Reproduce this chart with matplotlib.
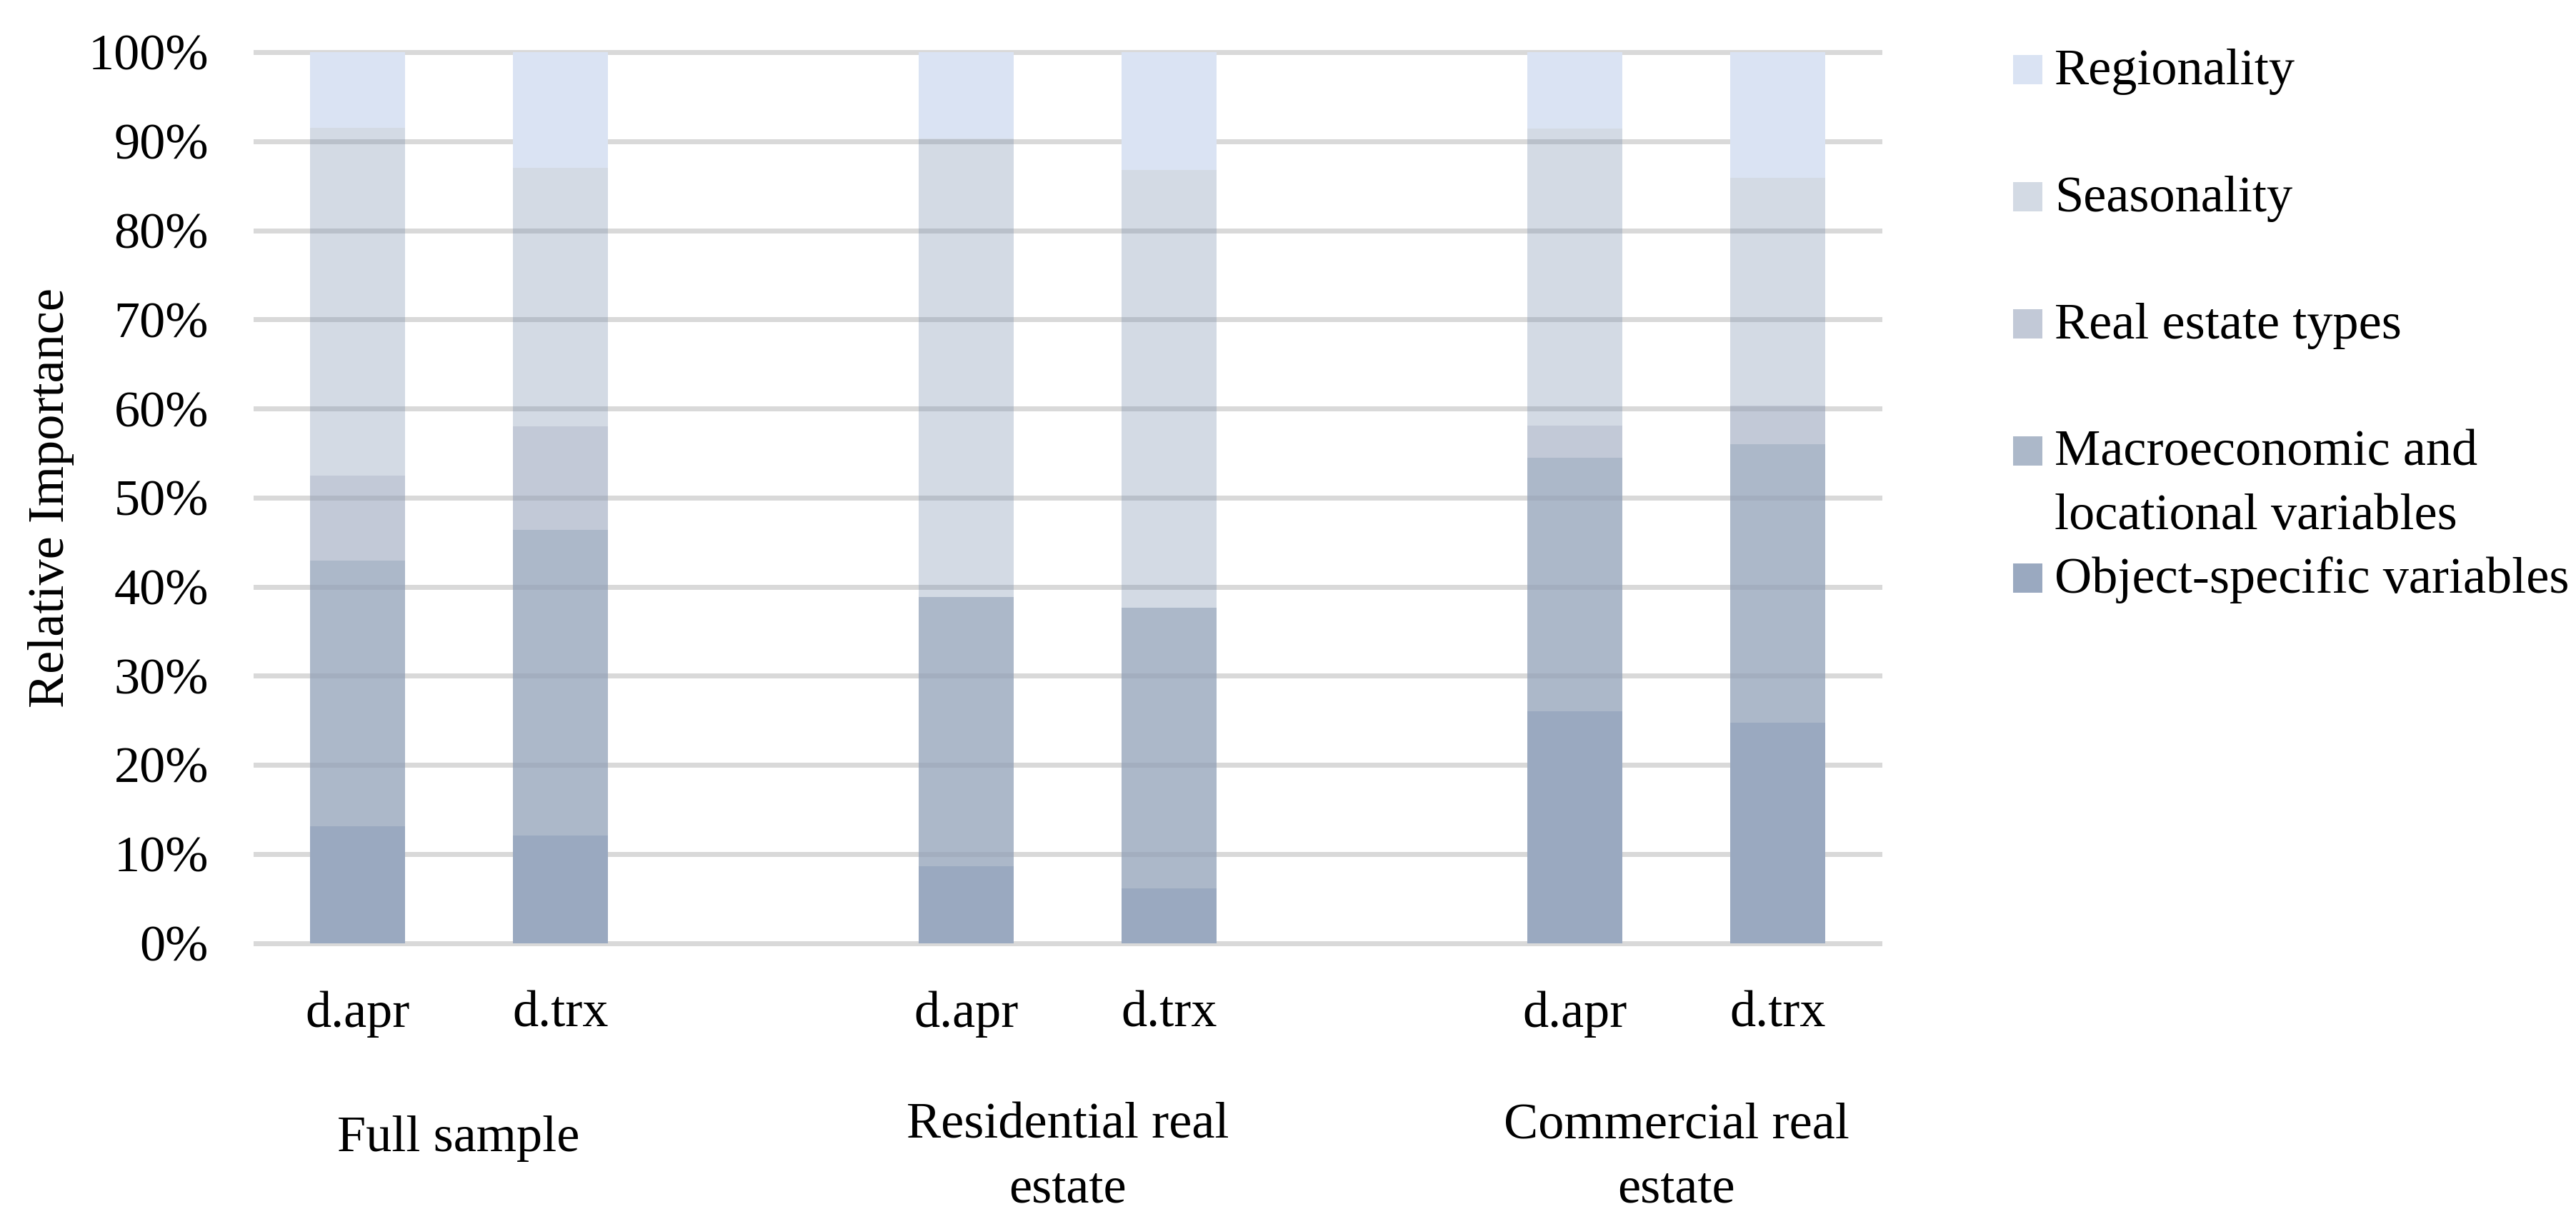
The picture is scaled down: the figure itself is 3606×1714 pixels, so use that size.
import matplotlib
matplotlib.use("Agg")
import matplotlib.pyplot as plt
from matplotlib.patches import Rectangle
from matplotlib.transforms import blended_transform_factory
import numpy as np

# ---------------- data ----------------
groups = ["Full sample", "Residential real\nestate", "Commercial real\nestate"]
methods = ["d.apr", "d.trx"]
series_names = ["Object-specific variables",
                "Macroeconomic and\nlocational variables",
                "Real estate types",
                "Seasonality",
                "Regionality"]
# values in %, order of bars: Full d.apr, Full d.trx, Res d.apr, Res d.trx, Com d.apr, Com d.trx
object_specific = [13.1, 12.1, 8.6, 6.1, 26.0, 24.7]
macro_locational = [29.8, 34.3, 30.2, 31.5, 28.5, 31.3]
real_estate_types = [9.6, 11.6, 0.0, 0.0, 3.6, 4.3]
seasonality = [39.0, 29.0, 51.5, 49.2, 33.3, 25.6]
regionality = [8.5, 13.0, 9.7, 13.2, 8.6, 14.1]
yticks = [0, 10, 20, 30, 40, 50, 60, 70, 80, 90, 100]

# ---------------- style ----------------
W, H = 3606, 1714
DPI = 100
FONT = "Liberation Serif"
plt.rcParams["font.family"] = [FONT, "DejaVu Serif"]

# colors (rgb base, alpha) chosen to match appearance over white
series_styles = [
    ((154/255, 169/255, 192/255), 1.0),    # object-specific
    ((144/255, 159/255, 182/255), 0.74),   # macro
    ((144/255, 157/255, 182/255), 0.55),   # real estate types
    ((112/255, 135/255, 168/255), 0.30),   # seasonality
    ((218/255, 227/255, 243/255), 1.0),    # regionality
]

fig = plt.figure(figsize=(W / DPI, H / DPI), dpi=DPI)
fig.patch.set_facecolor("white")

def fx(px):
    return px / W

def fy(px):
    return 1 - px / H

# calibrate font size to match target text width
probe = fig.text(0, 0, "Regionality", fontsize=40)
fig.canvas.draw()
wpx = probe.get_window_extent().width
probe.remove()
FS = 40 * 337.0 / wpx

ax_left, ax_right, ax_top, ax_bottom = 358, 2631, 73, 1320.5
ax = fig.add_axes([fx(ax_left), fy(ax_bottom), fx(ax_right) - fx(ax_left),
                   fy(ax_top) - fy(ax_bottom)])

# slot positions: two bars per group, one blank slot between groups
positions = []
labels_pos = []
slot = 0
for gi, g in enumerate(groups):
    gp = []
    for m in methods:
        positions.append(slot)
        gp.append(slot)
        slot += 1
    labels_pos.append(np.mean(gp))
    slot += 1  # blank slot
n_slots = slot - 1

series = [object_specific, macro_locational, real_estate_types, seasonality, regionality]
bottom = np.zeros(len(positions))
bar_w = 0.468
for vals, (col, a) in zip(series, series_styles):
    vals = np.array(vals)
    ax.bar(positions, vals, width=bar_w, bottom=bottom, color=col, alpha=a,
           linewidth=0, zorder=2)
    bottom += vals

ax.set_xlim(-0.5, n_slots - 0.5)
ax.set_ylim(0, 100)
ax.set_yticks(yticks)
ax.set_yticklabels([f"{t}%" for t in yticks])
ax.set_xticks(positions)
ax.set_xticklabels(methods * len(groups))
for s in ax.spines.values():
    s.set_visible(False)
ax.set_axisbelow(True)
grid_lw = 7 * 72 / DPI
ax.yaxis.grid(True, color="#D9D9D9", linewidth=grid_lw, zorder=0)
for gl in ax.get_ygridlines():
    gl.set_clip_on(False)
ax.tick_params(axis="both", length=0, labelsize=FS, labelcolor="black")
ax.tick_params(axis="y", pad=(ax_left - 292) * 72 / DPI)
ax.tick_params(axis="x", pad=(1438 - ax_bottom) * 72 / DPI)
for lbl in ax.get_yticklabels():
    lbl.set_verticalalignment("center_baseline")
for lbl in ax.get_xticklabels():
    lbl.set_verticalalignment("baseline")

# group labels
trans = blended_transform_factory(ax.transData, fig.transFigure)
line_gap = 89
for g, xc in zip(groups, labels_pos):
    lines = g.split("\n")
    first = 1612 if len(lines) == 1 else 1594
    for li, t in enumerate(lines):
        ax.text(xc, fy(first + li * line_gap), t, transform=trans, ha="center",
                va="baseline", fontsize=FS, color="black")

# y label
fig.text(fx(72), fy((ax_top + ax_bottom) / 2), "Relative Importance", rotation=90,
         ha="center", va="center", fontsize=FS, color="black")

# legend (top entry = last series)
sq = 41
for i, (name, (col, a)) in enumerate(zip(series_names[::-1], series_styles[::-1])):
    base = 118 + i * 178
    fig.patches.append(Rectangle((fx(2818), fy(base)), fx(sq), sq / H,
                                 transform=fig.transFigure, facecolor=col,
                                 alpha=a, linewidth=0))
    for li, t in enumerate(name.split("\n")):
        fig.text(fx(2876), fy(base + li * line_gap), t, ha="left", va="baseline",
                 fontsize=FS, color="black")

fig.savefig("out.png", dpi=DPI, facecolor="white")
